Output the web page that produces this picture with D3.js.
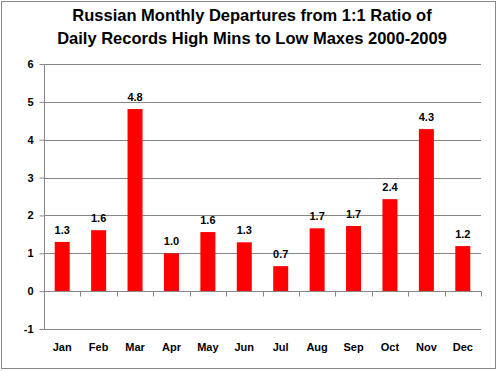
<!DOCTYPE html>
<html>
<head>
<meta charset="utf-8">
<script src="https://cdn.jsdelivr.net/npm/d3@7"></script>
<style>
  body { margin: 0; background: #fff; }
  svg text { font-family: "Liberation Sans", Arial, sans-serif; font-weight: bold; fill: #000; }
</style>
</head>
<body>
<svg id="chart" width="497" height="371"></svg>
<script>
const months = ["Jan","Feb","Mar","Apr","May","Jun","Jul","Aug","Sep","Oct","Nov","Dec"]
const departures = [1.3, 1.61, 4.81, 1.0, 1.56, 1.29, 0.66, 1.66, 1.72, 2.43, 4.28, 1.19]
const yTicks = [-1, 0, 1, 2, 3, 4, 5, 6]
const titleLines = ["Russian Monthly Departures from 1:1 Ratio of", "Daily Records High Mins to Low Maxes 2000-2009"]

const svg = d3.select("#chart")
const plotLeft = 44, plotRight = 481, plotTop = 64, plotBottom = 329

// outer border
svg.append("rect")
	.attr("x", 1.5).attr("y", 1.5)
	.attr("width", 494).attr("height", 367)
	.attr("fill", "#fff").attr("stroke", "#888").attr("stroke-width", 1)

const x = d3.scaleBand().domain(months).range([plotLeft, plotRight])
const y = d3.scaleLinear().domain([-1, 6]).range([plotBottom, plotTop])

// gridlines
svg.append("g")
	.selectAll("line")
	.data(yTicks)
	.join("line")
	.attr("x1", plotLeft).attr("x2", plotRight)
	.attr("y1", d => Math.round(y(d)) + 0.5).attr("y2", d => Math.round(y(d)) + 0.5)
	.attr("stroke", "#868686")

// y axis
const yAxis = svg.append("g")
	.attr("transform", `translate(${plotLeft + 0.5},0)`)
	.call(d3.axisLeft(y).tickValues(yTicks).tickSize(5).tickPadding(6).tickFormat(d => String(d)))
yAxis.select(".domain").attr("stroke", "#868686").attr("d", `M0,${y(6)}V${y(-1)}`)
yAxis.selectAll(".tick line").attr("stroke", "#868686")
yAxis.selectAll(".tick text").style("font-size", "11px")

// bars
const barW = 15
svg.append("g")
	.selectAll("rect")
	.data(departures)
	.join("rect")
	.attr("x", (d, i) => x(months[i]) + x.bandwidth() / 2 - barW / 2)
	.attr("y", d => y(d))
	.attr("width", barW)
	.attr("height", d => y(0) - y(d))
	.attr("fill", "#ff0000")

// zero axis with category ticks
const zeroY = Math.round(y(0)) + 0.5
svg.append("line")
	.attr("x1", plotLeft).attr("x2", plotRight)
	.attr("y1", zeroY).attr("y2", zeroY)
	.attr("stroke", "#868686")
svg.append("g")
	.selectAll("line")
	.data(months.concat(["end"]))
	.join("line")
	.attr("x1", (d, i) => Math.round(plotLeft + i * x.step()) + 0.5)
	.attr("x2", (d, i) => Math.round(plotLeft + i * x.step()) + 0.5)
	.attr("y1", zeroY).attr("y2", zeroY + 5)
	.attr("stroke", "#868686")

// value labels
svg.append("g")
	.selectAll("text")
	.data(departures)
	.join("text")
	.attr("x", (d, i) => x(months[i]) + x.bandwidth() / 2)
	.attr("y", d => y(d) - 8)
	.attr("text-anchor", "middle")
	.style("font-size", "11px")
	.text(d => d3.format(".1f")(d))

// month labels
svg.append("g")
	.selectAll("text")
	.data(months)
	.join("text")
	.attr("x", d => x(d) + x.bandwidth() / 2)
	.attr("y", 351)
	.attr("text-anchor", "middle")
	.style("font-size", "11px")
	.text(d => d)

// title
svg.append("g")
	.selectAll("text")
	.data(titleLines)
	.join("text")
	.attr("x", 252)
	.attr("y", (d, i) => 21 + i * 23)
	.attr("text-anchor", "middle")
	.style("font-size", "16.5px")
	.text(d => d)
</script>
</body>
</html>
